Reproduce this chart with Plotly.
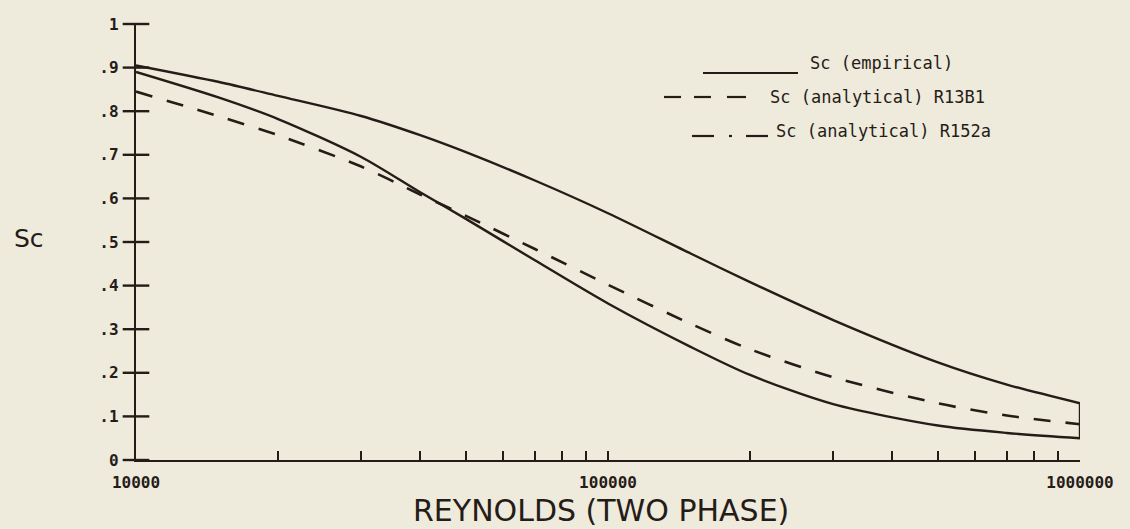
import plotly.graph_objects as go

# Reynolds number (two phase) and Schmidt number readings
re = [10000, 15000, 20000, 30000, 40000, 50000, 70000, 100000,
      150000, 200000, 300000, 500000, 700000, 1000000]
sc_empirical = [0.905, 0.867, 0.835, 0.789, 0.745, 0.706, 0.641, 0.566,
                0.473, 0.408, 0.321, 0.224, 0.173, 0.13]
sc_r13b1 = [0.845, 0.788, 0.745, 0.673, 0.609, 0.56, 0.484, 0.402,
            0.312, 0.254, 0.19, 0.13, 0.102, 0.082]
sc_r152a = [0.89, 0.831, 0.782, 0.695, 0.614, 0.553, 0.458, 0.359,
            0.259, 0.195, 0.128, 0.079, 0.062, 0.05]

y_ticks = [0, 0.1, 0.2, 0.3, 0.4, 0.5, 0.6, 0.7, 0.8, 0.9, 1]
y_labels = ["0", ".1", ".2", ".3", ".4", ".5", ".6", ".7", ".8", ".9", "1"]
x_major = [10000, 100000, 1000000]
x_major_labels = ["10000", "100000", "1000000"]

legend_labels = ["Sc (empirical)", "Sc (analytical) R13B1", "Sc (analytical) R152a"]

INK = "#261c17"
BG = "#eeeadc"

# log axis ticks at every decade step
x_ticks, x_labels = [], []
for dec in x_major[:-1]:
    for k in range(1, 10):
        x_ticks.append(dec * k)
        x_labels.append(x_major_labels[x_major.index(dec)] if k == 1 else "")
x_ticks.append(x_major[-1])
x_labels.append(x_major_labels[-1])

fig = go.Figure()
fig.add_trace(go.Scatter(x=re, y=sc_empirical, mode="lines",
                         line=dict(color=INK, width=2.4, shape="spline", smoothing=0.8),
                         showlegend=False))
fig.add_trace(go.Scatter(x=re, y=sc_r13b1, mode="lines",
                         line=dict(color=INK, width=2.6, dash="17px,15px", shape="spline", smoothing=0.8),
                         showlegend=False))
fig.add_trace(go.Scatter(x=re, y=sc_r152a, mode="lines",
                         line=dict(color=INK, width=2.4, shape="spline", smoothing=0.8),
                         showlegend=False))
# closing edge at the right end
fig.add_trace(go.Scatter(x=[re[-1], re[-1]], y=[sc_empirical[-1], sc_r152a[-1]], mode="lines",
                         line=dict(color=INK, width=2.4), showlegend=False))
# plotter style "+" ticks crossing the y axis
fig.add_trace(go.Scatter(x=[x_major[0]] * len(y_ticks), y=y_ticks, mode="markers",
                         marker=dict(symbol="line-ew", size=19, line=dict(width=2.4, color=INK)),
                         cliponaxis=False, showlegend=False, hoverinfo="skip"))

tick_font = dict(family="DejaVu Sans Mono", size=16, color=INK, weight="bold")

fig.update_layout(
    width=1130, height=529, autosize=False,
    paper_bgcolor=BG, plot_bgcolor=BG,
    margin=dict(l=136, r=50, t=24, b=69),
    xaxis=dict(type="log", range=[4, 6], tickvals=x_ticks, ticktext=x_labels,
               ticks="inside", ticklen=9, tickwidth=2, tickcolor=INK,
               showline=True, linecolor=INK, linewidth=2.4, showgrid=False,
               zeroline=False, tickfont=tick_font, ticklabelstandoff=7),
    yaxis=dict(range=[0, 1], tickvals=y_ticks, ticktext=y_labels, ticks="",
               showline=True, linecolor=INK, linewidth=2.4, showgrid=False,
               zeroline=False, tickfont=tick_font, ticklabelstandoff=12),
)

def px_x(p):
    return (p - 136) / 944

def px_y(p):
    return (460 - p) / 436

legend_font = dict(family="DejaVu Sans Mono", size=17, color=INK)

# legend row 1: solid
fig.add_shape(type="line", xref="paper", yref="paper", x0=px_x(703), x1=px_x(798),
              y0=px_y(73), y1=px_y(73), line=dict(color=INK, width=2.2))
# legend row 2: short dashes
for a, b in [(664, 681), (694, 711), (727, 746)]:
    fig.add_shape(type="line", xref="paper", yref="paper", x0=px_x(a), x1=px_x(b),
                  y0=px_y(97), y1=px_y(97), line=dict(color=INK, width=2.2))
# legend row 3: long dash, dot, long dash
for a, b in [(692, 714), (729, 732), (746, 768)]:
    fig.add_shape(type="line", xref="paper", yref="paper", x0=px_x(a), x1=px_x(b),
                  y0=px_y(136), y1=px_y(136), line=dict(color=INK, width=2.2))

for label, xl, yl in zip(legend_labels, [808, 768, 774], [63, 97, 131]):
    fig.add_annotation(text=label, xref="paper", yref="paper", x=px_x(xl), y=px_y(yl),
                       xanchor="left", yanchor="middle", showarrow=False, font=legend_font)

fig.add_annotation(text="Sc", xref="paper", yref="paper", x=px_x(29), y=px_y(238),
                   xanchor="center", yanchor="middle", showarrow=False,
                   font=dict(family="DejaVu Sans", size=25, color=INK))
fig.add_annotation(text="REYNOLDS (TWO PHASE)", xref="paper", yref="paper",
                   x=px_x(601), y=px_y(510), xanchor="center", yanchor="middle",
                   showarrow=False, font=dict(family="DejaVu Sans", size=30, color=INK))

fig.write_html(
    "out.html",
    config={"displayModeBar": False},
    post_script="document.body.style.margin='0';"
                "document.body.style.overflow='hidden';"
                "document.body.style.background='#eeeadc';",
)
